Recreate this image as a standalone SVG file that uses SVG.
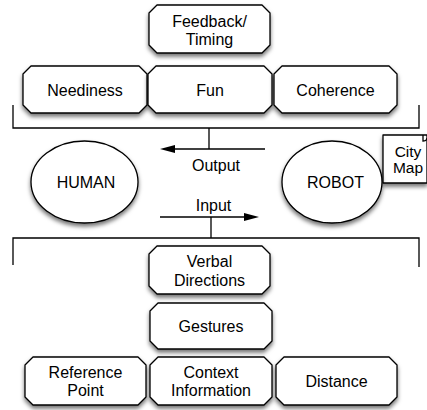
<svg xmlns="http://www.w3.org/2000/svg" width="427" height="410" viewBox="0 0 427 410">
<style>
.box{fill:#fff;stroke:#000;stroke-width:1.3;stroke-linejoin:round;filter:url(#sh)}
.ell{fill:#fff;stroke:#000;stroke-width:1.3;filter:url(#sh)}
.ln{fill:none;stroke:#000;stroke-width:1.3}
text{font-family:"Liberation Sans",Arial,sans-serif;font-size:16px;fill:#000;text-anchor:middle}
.sm{font-size:15.5px}
</style>
<defs>
<filter id="sh" x="-20%" y="-20%" width="140%" height="150%">
<feDropShadow dx="0" dy="3" stdDeviation="2" flood-color="#000" flood-opacity="0.55"/>
</filter>
</defs>
<rect width="427" height="410" fill="#fff"/>
<g id="connectors">
<path class="ln" d="M13,105 V128 H419 V105 M209,128 V149"/>
<path class="ln" d="M265,149 H172"/>
<polygon points="160,149 175,145 175,153" fill="#000"/>
<path class="ln" d="M160,217 H247"/>
<polygon points="259,217 244,213 244,221" fill="#000"/>
<path class="ln" d="M211,217 V238 M13,265 V238 H419 V267"/>
</g>
<g id="feedback"><path class="box" d="M157,5 H262 L270,13 V45 L262,53 H157 L149,45 V13 Z"/><text x="209.5" y="27">Feedback/</text><text x="209.5" y="45">Timing</text></g>
<g id="neediness"><path class="box" d="M31,66 H139 L147,74 V105 L139,113 H31 L23,105 V74 Z"/><text x="85" y="96">Neediness</text></g>
<g id="fun"><path class="box" d="M156,66 H264 L272,74 V105 L264,113 H156 L148,105 V74 Z"/><text x="210" y="96">Fun</text></g>
<g id="coherence"><path class="box" d="M282,66 H389 L397,74 V105 L389,113 H282 L274,105 V74 Z"/><text x="335.5" y="96">Coherence</text></g>
<g id="citymap"><path class="box" d="M383,135 H427 V183 H383 Z"/><path class="ln" d="M423,135 V141 Q427,141 427,138" stroke-width="1"/><text class="sm" x="408" y="157">City</text><text class="sm" x="408" y="173">Map</text></g>
<g id="human"><ellipse class="ell" cx="84.5" cy="182" rx="53.5" ry="41"/><text x="86" y="187.5">HUMAN</text></g>
<g id="robot"><ellipse class="ell" cx="332" cy="182" rx="50" ry="41"/><text x="335.5" y="187.5">ROBOT</text></g>
<g id="output"><text x="216" y="171">Output</text></g>
<g id="input"><text x="213.5" y="211">Input</text></g>
<g id="verbal"><path class="box" d="M157,246 H262 L270,254 V286 L262,294 H157 L149,286 V254 Z"/><text x="209.5" y="267">Verbal</text><text x="209.5" y="286">Directions</text></g>
<g id="gestures"><path class="box" d="M158,303 H264 L272,311 V341 L264,349 H158 L150,341 V311 Z"/><text x="211" y="332">Gestures</text></g>
<g id="reference"><path class="box" d="M33,357 H138 L146,365 V397 L138,405 H33 L25,397 V365 Z"/><text x="85.5" y="377.5">Reference</text><text x="85.5" y="396">Point</text></g>
<g id="context"><path class="box" d="M158,357 H264 L272,365 V397 L264,405 H158 L150,397 V365 Z"/><text x="211" y="377.5">Context</text><text x="211" y="396">Information</text></g>
<g id="distance"><path class="box" d="M284,357 H389 L397,365 V397 L389,405 H284 L276,397 V365 Z"/><text x="336.5" y="386.5">Distance</text></g>
</svg>
